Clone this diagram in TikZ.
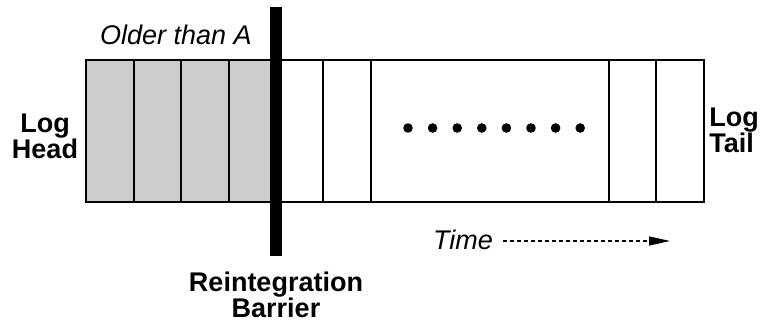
\documentclass[tikz,border=0pt]{standalone}
\usepackage{fontspec}
\setmainfont{Liberation Sans}
\usetikzlibrary{arrows.meta}
\definecolor{cellgray}{RGB}{204,204,204}
\tikzset{
  lbl/.style={font=\fontsize{27}{26}\selectfont\bfseries, align=center, inner sep=0pt},
  itl/.style={font=\fontsize{27}{26}\selectfont\itshape, inner sep=0pt},
  divider/.style={line width=1.3pt},
  outer/.style={line width=2pt},
}
\begin{document}
\begin{tikzpicture}[x=1pt,y=-1pt]
\useasboundingbox (0,0) rectangle (761,322);
% shaded (older) cells
\fill[cellgray] (86,60) rectangle (276,202);
% dividers
\foreach \xx in {134,181,229,323,371,609,656}
  \draw[divider] (\xx,60) -- (\xx,202);
% outer box
\draw[outer] (86,60) rectangle (704,202);
% barrier
\fill[black] (270,7) rectangle (282,256);
% dots
\foreach \i in {0,...,7}
  \fill (408+\i*24.6,128) circle (4.8);
% texts
\node[itl] (older) at (176,35) {Older than A};
\node[lbl] (head) at (45,136) {Log\\Head};
\node[lbl, align=left] (tail) at (734,130) {Log\\Tail};
\node[lbl] (barrier) at (276,295) {Reintegration\\Barrier};
\node[itl] (time) at (463,240) {Time};
\coordinate (tend) at (670,241);
\draw[line width=1.3pt, dash pattern=on 4pt off 3pt, -{Triangle[length=21pt,width=9pt]}]
  (time.east) ++(10,1) -- (tend);
\end{tikzpicture}
\end{document}
